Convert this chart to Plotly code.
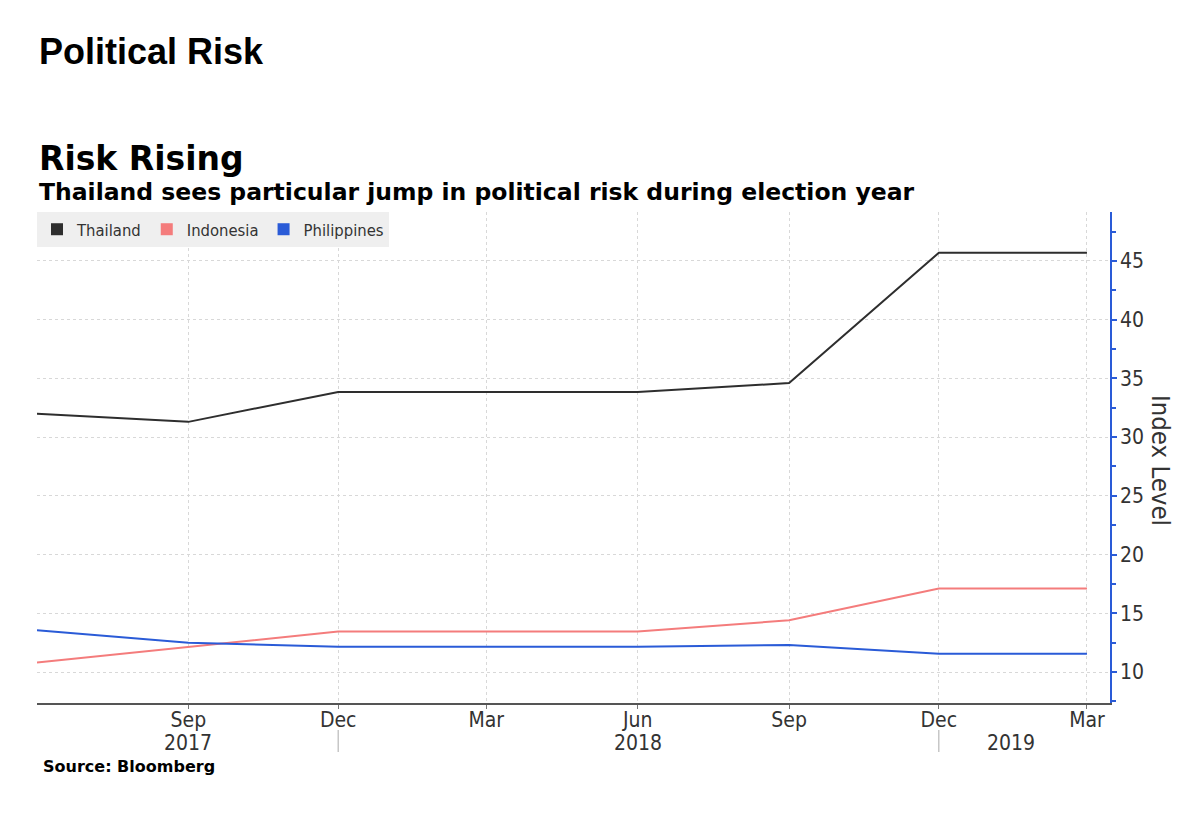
import plotly.graph_objects as go

dates = ["2017-06-01", "2017-09-01", "2017-12-01", "2018-03-01",
         "2018-06-01", "2018-09-01", "2018-12-01", "2019-03-01"]
thailand = [32.0, 31.3, 33.85, 33.85, 33.85, 34.6, 45.7, 45.7]
indonesia = [10.8, 12.15, 13.45, 13.45, 13.45, 14.4, 17.1, 17.1]
philippines = [13.55, 12.5, 12.15, 12.15, 12.15, 12.3, 11.55, 11.55]

tick_dates = ["2017-09-01", "2017-12-01", "2018-03-01", "2018-06-01",
              "2018-09-01", "2018-12-01", "2019-03-01"]
tick_labels = ["Sep", "Dec", "Mar", "Jun", "Sep", "Dec", "Mar"]
year_labels = ["2017", "2018", "2019"]
year_pos = ["2017-09-01", "2018-06-01", "2019-01-14"]
year_seps = ["2017-12-01", "2018-12-01"]

names = ["Thailand", "Indonesia", "Philippines"]
colors = ["#2e2e2e", "#f47c7c", "#2a5bd7"]
series = [thailand, indonesia, philippines]

tick_font = "DejaVu Sans Condensed, DejaVu Sans, sans-serif"

# page has an 8px body margin; plot area on screen: x 37..1110, y 212..703
L, T = 29, 204
PW, PH = 1073, 491

fig = go.Figure()
for name, col, vals in zip(names, colors, series):
    fig.add_trace(go.Scatter(x=dates, y=vals, mode="lines", name=name,
                             line=dict(color=col, width=2), showlegend=False))
for name, col in zip(names, colors):
    fig.add_trace(go.Scatter(x=[None], y=[None], mode="markers", name=name,
                             marker=dict(symbol="square", size=10, color=col),
                             showlegend=True))

fig.update_layout(
    width=1200, height=836,
    paper_bgcolor="white", plot_bgcolor="white",
    margin=dict(l=L, r=1200 - L - PW, t=T, b=836 - T - PH),
    showlegend=True,
    legend=dict(orientation="h", x=0, y=1, xanchor="left", yanchor="top",
                bgcolor="#efefef", font=dict(family=tick_font, size=16.5, color="#333"),
                itemwidth=30, tracegroupgap=0, itemsizing="constant"),
    xaxis=dict(type="date", range=["2017-06-01", "2019-03-15"],
               tickvals=tick_dates, ticktext=tick_labels,
               tickfont=dict(family=tick_font, size=21, color="#333"),
               showgrid=True, gridcolor="#d8d8d8", griddash="dot", gridwidth=1,
               showline=True, linecolor="#555", linewidth=1.5,
               ticks="outside", ticklen=4, tickcolor="#777",
               ticklabelstandoff=-7,
               zeroline=False),
    yaxis=dict(side="right", range=[7.36, 49.17],
               tickvals=[10, 15, 20, 25, 30, 35, 40, 45],
               tickfont=dict(family=tick_font, size=21, color="#333"),
               showgrid=True, gridcolor="#d8d8d8", griddash="dot", gridwidth=1,
               showline=True, linecolor="#2a5bd7", linewidth=1.5,
               ticks="outside", ticklen=5, tickcolor="#2a5bd7", tickwidth=1.5,
               ticklabelstandoff=-1,
               minor=dict(dtick=2.5, tick0=7.5, ticks="outside", ticklen=4,
                          tickcolor="#2a5bd7", showgrid=False),
               zeroline=False),
)

annotations = [
    dict(text="<b>Political Risk</b>", x=37, y=52,
         font=dict(family="Liberation Sans, Arial, sans-serif", size=36, color="black")),
    dict(text="<b>Risk Rising</b>", x=37, y=158,
         font=dict(family="DejaVu Sans, sans-serif", size=33, color="black")),
    dict(text="<b>Thailand sees particular jump in political risk during election year</b>",
         x=37, y=192, font=dict(family="DejaVu Sans, sans-serif", size=23.5, color="black")),
    dict(text="<b>Source: Bloomberg</b>", x=41, y=766,
         font=dict(family="DejaVu Sans, sans-serif", size=16, color="black")),
]
anns = []
for a in annotations:
    px, py = a["x"], a["y"]
    anns.append(dict(text=a["text"], xref="paper", yref="paper",
                     x=(px - 37) / PW, y=1 - (py - 212) / PH,
                     xanchor="left", yanchor="middle", showarrow=False, font=a["font"]))
for lab, pos in zip(year_labels, year_pos):
    anns.append(dict(text=lab, x=pos, xref="x", yref="paper", y=-(743 - 703) / PH,
                     yanchor="middle", xanchor="center", showarrow=False,
                     font=dict(family=tick_font, size=21, color="#333")))
anns.append(dict(text="Index Level", textangle=90, xref="paper", yref="paper",
                 x=(1161 - 37) / PW, y=1 - (460 - 212) / PH,
                 xanchor="center", yanchor="middle", showarrow=False,
                 font=dict(family=tick_font, size=25.5, color="#333")))
fig.update_layout(annotations=anns)

for s in year_seps:
    fig.add_shape(type="line", x0=s, x1=s, xref="x", yref="paper",
                  y0=-(730 - 703) / PH, y1=-(752 - 703) / PH,
                  line=dict(color="#aaaaaa", width=1))

fig.write_html("out.html")
